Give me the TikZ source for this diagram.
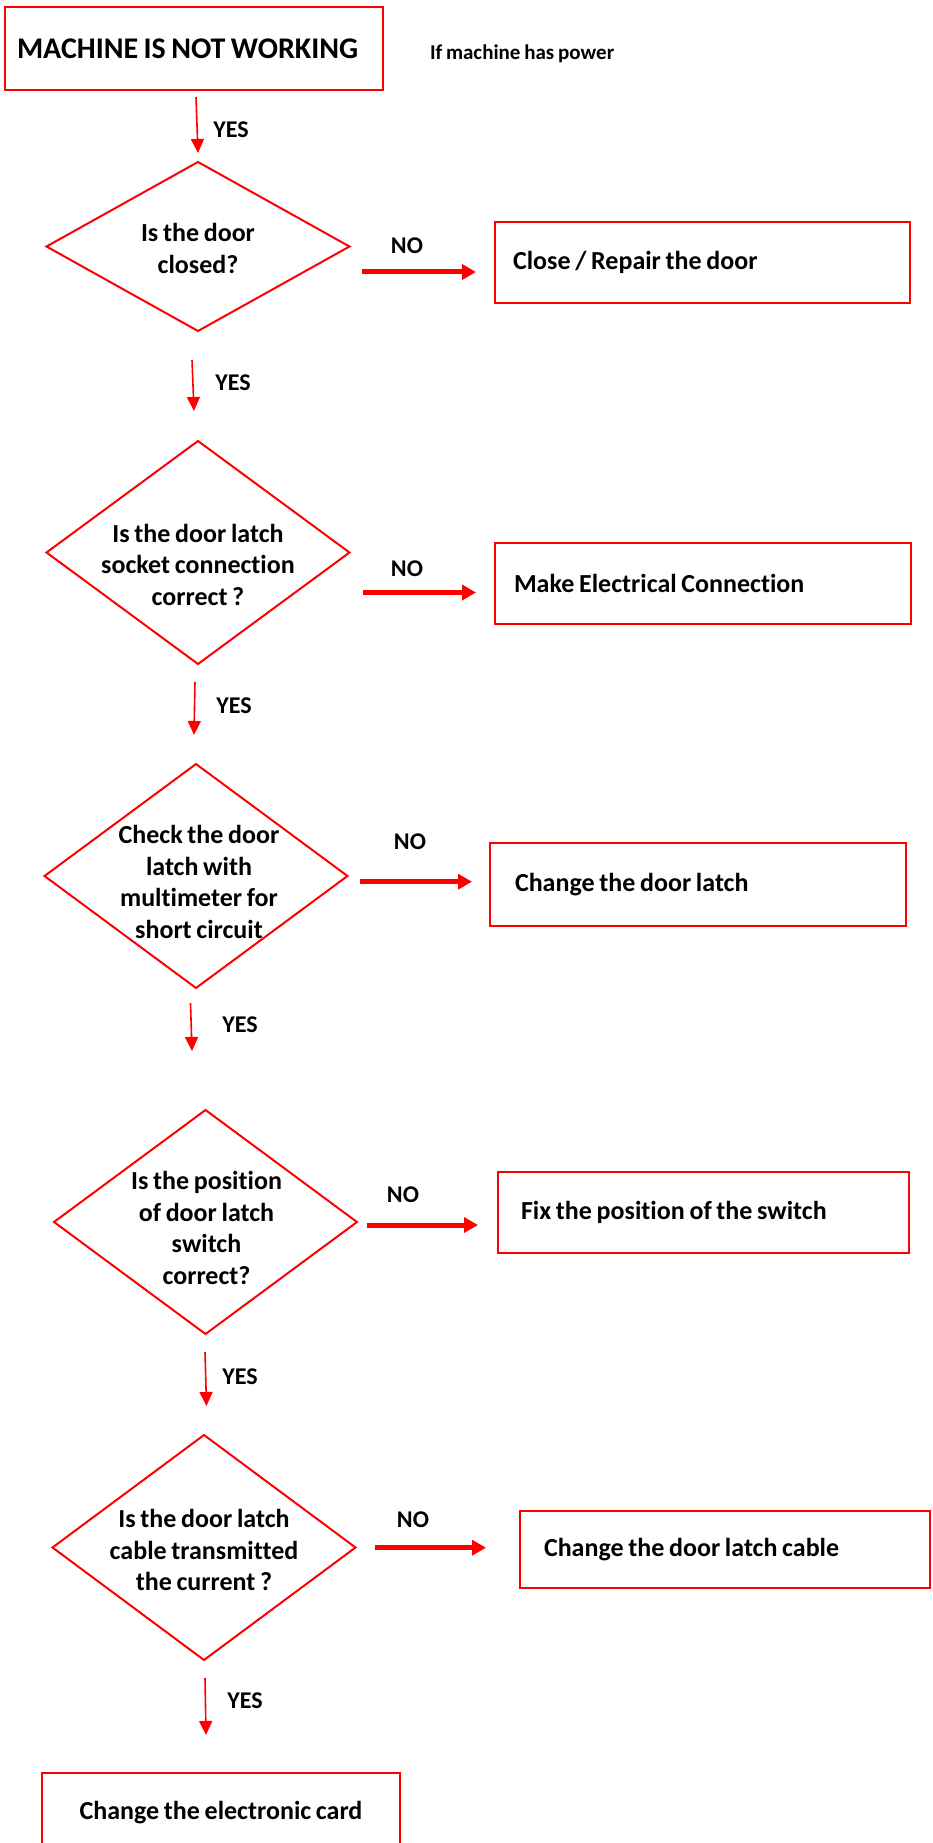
\documentclass[tikz,border=0pt]{standalone}
\usepackage{fontspec}
\setmainfont{Carlito}[WordSpace=0.8,Ligatures=NoCommon]
\usetikzlibrary{shapes.geometric,arrows.meta,calc}
\definecolor{fr}{RGB}{255,0,0}
\begin{document}
\begin{tikzpicture}[x=1pt,y=-1pt,
  every node/.style={outer sep=0pt},
  txtfont/.style={font=\fontsize{26}{31.5}\selectfont\bfseries},
  box/.style={draw=fr,line width=2.5pt,inner xsep=0pt,inner ysep=0pt,align=flush left,txtfont},
  dia/.style={draw=fr,line width=2pt,diamond,inner sep=0pt},
  qtext/.style={align=center,txtfont,inner sep=0pt},
  lab/.style={font=\fontsize{24}{28}\selectfont\bfseries,inner sep=0pt},
  yesarr/.style={draw=fr,line width=1.6pt,-{Triangle[length=14pt,width=13pt]}},
  noarr/.style={draw=fr,line width=5pt,-{Triangle[length=14pt,width=15pt]}}
]
\useasboundingbox (0,0) rectangle (932,1843);
\fill[white] (0,0) rectangle (932,1843);

% title
\node[box,minimum width=378pt,minimum height=83pt,text width=354pt,font=\fontsize{30}{34}\selectfont\bfseries] (t) at (194,48.5) {MACHINE IS NOT WORKING};
\node[font=\fontsize{21}{25}\selectfont\bfseries,anchor=base west,inner sep=0pt] (pw) at (430,60) {If machine has power};

% diamonds
\node[dia,minimum width=303pt,minimum height=169pt] (d1) at (198,246.5) {};
\node[qtext] (q1) at ($(d1)+(0,2)$) {Is the door\\closed?};
\node[dia,minimum width=303pt,minimum height=223pt] (d2) at (198,552.5) {};
\node[qtext] (q2) at ($(d2)+(0,12)$) {Is the door latch\\socket connection\\correct ?};
\node[dia,minimum width=303pt,minimum height=224pt] (d3) at (196,876) {};
\node[qtext] (q3) at ($(d3)+(3,6)$) {Check the door\\latch with\\multimeter for\\short circuit};
\node[dia,minimum width=303pt,minimum height=224pt] (d4) at (205.5,1222) {};
\node[qtext] (q4) at ($(d4)+(1,6)$) {Is the position\\of door latch\\switch\\correct?};
\node[dia,minimum width=303pt,minimum height=225pt] (d5) at (204,1547.5) {};
\node[qtext] (q5) at ($(d5)+(0,2.5)$) {Is the door latch\\cable transmitted\\the current ?};

% action boxes
\node[box,minimum width=415pt,minimum height=81pt,text width=379pt] (b1) at (702.5,262.5) {Close / Repair the door};
\node[box,minimum width=416pt,minimum height=81pt,text width=378pt] (b2) at (703,583.5) {Make Electrical Connection};
\node[box,minimum width=416pt,minimum height=83pt,text width=366pt] (b3) at (698,884.5) {Change the door latch};
\node[box,minimum width=411pt,minimum height=81pt,text width=365pt] (b4) at (703.5,1212.5) {Fix the position of the switch};
\node[box,minimum width=410pt,minimum height=77pt,text width=362pt] (b5) at (725,1549.5) {Change the door latch cable};
\node[box,minimum width=358pt,minimum height=80pt,text width=350pt,align=flush center] (b6) at (221,1813) {Change the electronic card};

% YES arrows
\draw[yesarr] ($(t.south)+(2,7)$) -- ($(d1.north)+(0,-9)$);
\draw[yesarr] ($(d1.south)+(-6,29)$) -- ($(d2.north)+(-4,-30)$);
\draw[yesarr] ($(d2.south)+(-3,18)$) -- ($(d3.north)+(-2,-29)$);
\draw[yesarr] ($(d3.south)+(-5.5,15)$) -- ($(d4.north)+(-13.5,-59)$);
\draw[yesarr] ($(d4.south)+(-0.5,18)$) -- ($(d5.north)+(2.5,-29)$);
\draw[yesarr] ($(d5.south)+(1,18)$) -- ($(b6.north)+(-15,-38)$);

% NO arrows
\draw[noarr] ($(d1.east)+(12.5,25.5)$) -- ($(b1.west)+(-19,9.5)$);
\draw[noarr] ($(d2.east)+(13.5,40)$) -- ($(b2.west)+(-19,9)$);
\draw[noarr] ($(d3.east)+(12.5,5.7)$) -- ($(b3.west)+(-18,-2.8)$);
\draw[noarr] ($(d4.east)+(10,3)$) -- ($(b4.west)+(-20,12.5)$);
\draw[noarr] ($(d5.east)+(19.5,0.2)$) -- ($(b5.west)+(-34,-1.8)$);

% labels
\node[lab] (y1) at (231,129.5) {YES};
\node[lab] (y2) at (233,383) {YES};
\node[lab] (y3) at (234,705.5) {YES};
\node[lab] (y4) at (240,1025) {YES};
\node[lab] (y5) at (240,1377) {YES};
\node[lab] (y6) at (245,1700.5) {YES};
\node[lab] (n1) at (407,246) {NO};
\node[lab] (n2) at (407,569) {NO};
\node[lab] (n3) at (410,842) {NO};
\node[lab] (n4) at (403,1195) {NO};
\node[lab] (n5) at (413,1520) {NO};
\end{tikzpicture}
\end{document}
